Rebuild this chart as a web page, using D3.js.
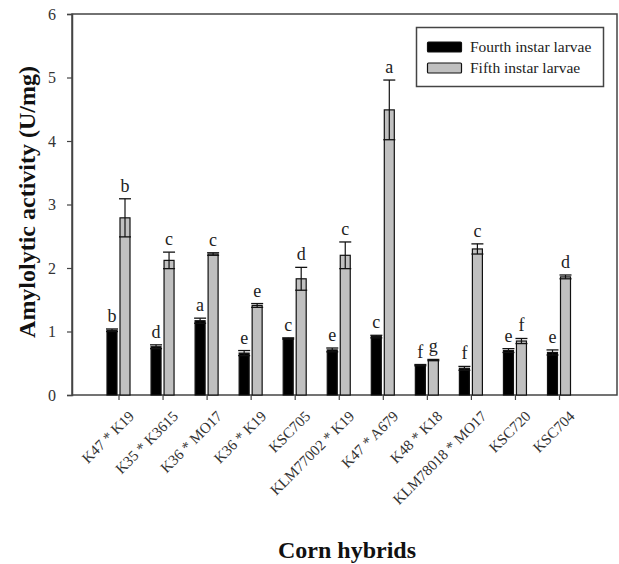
<!DOCTYPE html>
<html><head><meta charset="utf-8">
<script src="https://cdn.jsdelivr.net/npm/d3@7"></script>
<style>body{margin:0;background:#fff}svg{display:block}</style>
</head><body>
<svg id="c" width="619" height="564"></svg>
<script>
const categories = ["K47 * K19","K35 * K3615","K36 * MO17","K36 * K19","KSC705","KLM77002 * K19","K47 * A679","K48 * K18","KLM78018 * MO17","KSC720","KSC704"];
const fourthValues = [1.02,0.76,1.17,0.66,0.89,0.71,0.92,0.47,0.42,0.70,0.67];
const fourthErrors = [0.02,0.03,0.04,0.04,0.01,0.03,0.02,0.01,0.03,0.03,0.04];
const fourthLetters = ["b","d","a","e","c","e","c","f","f","e","e"];
const fifthValues = [2.79,2.12,2.22,1.41,1.83,2.20,4.49,0.55,2.30,0.85,1.86];
const fifthErrors = [0.30,0.13,0.02,0.03,0.18,0.21,0.47,0.01,0.08,0.04,0.03];
const fifthLetters = ["b","c","c","e","d","c","a","g","c","f","d"];
const yTicks = [0,1,2,3,4,5,6];
const seriesNames = ["Fourth instar larvae","Fifth instar larvae"];

const svg = d3.select("#c");
const font = "Liberation Serif, Times New Roman, serif";
const frame = "#444";
const L = 72, R = 617, T = 14, B = 395;
const x = d3.scalePoint().domain(categories).range([118.5, 559]);
const y = d3.scaleLinear().domain([0, 6]).range([B, T]);
const bw = 10;

// frame
svg.append("rect").attr("x", L).attr("y", T).attr("width", R - L).attr("height", B - T)
  .attr("fill", "none").attr("stroke", frame).attr("stroke-width", 1.5);

// y axis
const ya = svg.append("g").attr("transform", `translate(${L},0)`)
  .attr("font-family", font).attr("font-size", 16)
  .call(d3.axisLeft(y).tickValues(yTicks).tickSize(5).tickPadding(11).tickFormat(d3.format("d")));
ya.attr("font-family", font).attr("font-size", 16);
ya.select(".domain").attr("stroke", frame).attr("stroke-width", 1.5);
ya.selectAll(".tick line").attr("stroke", frame).attr("stroke-width", 1.2);
ya.selectAll("text").style("font-family", font).style("font-size", "16px").attr("fill", "#333");

// x axis
const xa = svg.append("g").attr("transform", `translate(0,${B})`)
  .call(d3.axisBottom(x).tickSize(5).tickPadding(4));
xa.attr("font-family", font).attr("font-size", 15);
xa.select(".domain").remove();
xa.selectAll(".tick line").attr("stroke", frame).attr("stroke-width", 1.2);
xa.selectAll("text").style("font-family", font).style("font-size", "15px").attr("fill", "#333")
  .attr("text-anchor", "end").attr("dy", "0.35em")
  .attr("transform", "translate(6,12) rotate(-45)");

function drawSeries(vals, errs, letters, offset, fill) {
  const g = svg.append("g");
  categories.forEach((c, i) => {
    const cx = x(c) + offset;
    const v = vals[i], e = errs[i];
    g.append("rect").attr("x", cx - bw / 2).attr("y", y(v)).attr("width", bw).attr("height", y(0) - y(v))
      .attr("fill", fill).attr("stroke", "#111").attr("stroke-width", 1.2);
    const hi = y(v + e), lo = y(v - e);
    g.append("line").attr("x1", cx).attr("x2", cx).attr("y1", hi).attr("y2", lo).attr("stroke", "#111").attr("stroke-width", 1.2);
    [hi, lo].forEach(yy => g.append("line").attr("x1", cx - bw / 2 - 1).attr("x2", cx + bw / 2 + 1)
      .attr("y1", yy).attr("y2", yy).attr("stroke", "#111").attr("stroke-width", 1.3));
    g.append("text").attr("x", cx).attr("y", hi - 7).attr("text-anchor", "middle")
      .style("font-family", font).style("font-size", "18px").attr("fill", "#222").text(letters[i]);
  });
}
drawSeries(fourthValues, fourthErrors, fourthLetters, -6.5, "#000");
drawSeries(fifthValues, fifthErrors, fifthLetters, 6.5, "#c0c0c0");

// legend
const lg = svg.append("g");
lg.append("rect").attr("x", 416.5).attr("y", 27.5).attr("width", 187).attr("height", 59)
  .attr("fill", "#fff").attr("stroke", frame).attr("stroke-width", 1.5);
const legFills = ["#000", "#c0c0c0"];
seriesNames.forEach((n, i) => {
  const yy = 42 + i * 21;
  lg.append("rect").attr("x", 427.5).attr("y", yy).attr("width", 34).attr("height", 10)
    .attr("fill", legFills[i]).attr("stroke", "#111").attr("stroke-width", 1.2).attr("rx", 1);
  lg.append("text").attr("x", 470).attr("y", yy + 5).attr("dy", "0.35em")
    .style("font-family", font).style("font-size", "15.5px").attr("fill", "#222").text(n);
});

// titles
svg.append("text").attr("transform", "translate(35,202) rotate(-90)").attr("text-anchor", "middle")
  .style("font-family", font).style("font-weight", "bold").style("font-size", "24px").attr("fill", "#111")
  .text("Amylolytic activity (U/mg)");
svg.append("text").attr("x", 347).attr("y", 558).attr("text-anchor", "middle")
  .style("font-family", font).style("font-weight", "bold").style("font-size", "24px").attr("fill", "#111")
  .text("Corn hybrids");
</script>
</body></html>
